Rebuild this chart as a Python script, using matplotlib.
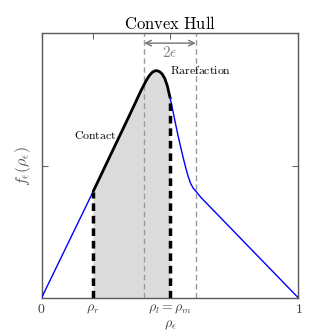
import matplotlib
matplotlib.use("Agg")
import matplotlib.pyplot as plt
import numpy as np

plt.rcParams['mathtext.fontset'] = 'cm'
plt.rcParams['font.family'] = 'serif'
plt.rcParams['font.serif'] = ['DejaVu Serif']

# flux curve f_eps(rho)
rho = [0.0, 0.2, 0.34, 0.36, 0.37, 0.38, 0.39, 0.40, 0.41, 0.42, 0.43, 0.44, 0.45, 0.46, 0.47, 0.48,
       0.49, 0.50, 0.51, 0.52, 0.53, 0.54, 0.55, 0.56, 0.57, 0.58, 0.59, 0.60, 0.62, 1.0]
flux = [0.0, 0.40, 0.685, 0.726, 0.747, 0.768, 0.788, 0.807, 0.825, 0.840, 0.851, 0.857, 0.858, 0.854,
        0.845, 0.828, 0.800, 0.757, 0.712, 0.665, 0.619, 0.576, 0.535, 0.496, 0.461, 0.433, 0.415,
        0.404, 0.38, 0.0]

rho_r = 0.2
rho_m = 0.5
eps = 0.1

xticks = [0.0, rho_r, rho_m, 1.0]
xticklabels = [r'$0$', r'$\rho_r$', r'$\rho_l = \rho_m$', r'$1$']

rho = np.array(rho)
flux = np.array(flux)

fig = plt.figure(figsize=(3.32, 3.32), dpi=100)
ax = fig.add_axes([0.125, 0.1024, 0.774, 0.798])

mask = (rho >= rho_r - 1e-9) & (rho <= rho_m + 1e-9)
ax.fill_between(rho[mask], 0, flux[mask], color='0.86', lw=0, zorder=1)

ax.plot(rho, flux, color='b', lw=1.0, zorder=3)
ax.plot(rho[mask], flux[mask], color='k', lw=2.0, zorder=4, solid_capstyle='butt')

f_r = flux[np.argmin(abs(rho - rho_r))]
f_m = flux[np.argmin(abs(rho - rho_m))]
ax.plot([rho_r, rho_r], [0, f_r], color='k', lw=2.5, ls=(0, (2.2, 1.4)), zorder=5)
ax.plot([rho_m, rho_m], [0, f_m], color='k', lw=2.5, ls=(0, (2.2, 1.4)), zorder=5)

for xv in (rho_m - eps, rho_m + eps):
    ax.axvline(xv, color='0.6', lw=1.0, ls=(0, (4, 2.5)), zorder=2)

ax.annotate('', xy=(rho_m - eps, 0.962), xytext=(rho_m + eps, 0.962),
            arrowprops=dict(arrowstyle='<->', color='0.45', lw=1.0, shrinkA=0, shrinkB=0))
ax.text(rho_m, 0.928, r'$2\epsilon$', color='0.5', ha='center', va='center', fontsize=11)

ax.text(0.21, 0.612, r'$\mathrm{Contact}$', ha='center', va='center', fontsize=8.5)
ax.text(0.5, 0.857, r'$\mathrm{Rarefaction}$', ha='left', va='center', fontsize=8.5)

ax.set_xlim(0, 1)
ax.set_ylim(0, 1)
ax.set_xticks(xticks)
ax.set_xticklabels(xticklabels, fontsize=10)
ax.set_yticks([0.5])
ax.set_yticklabels([''])
ax.tick_params(direction='in', top=True, right=True, length=4, color='0.4', labelcolor='0.25', pad=3)
for s in ax.spines.values():
    s.set_color('0.35')
    s.set_linewidth(1.0)

ax.set_xlabel(r'$\rho_\epsilon$', fontsize=10, color='0.25', labelpad=1)
ax.set_ylabel(r'$f_\epsilon(\rho_\epsilon)$', fontsize=11.5, color='0.35', labelpad=3)
ax.set_title(r'$\mathrm{Convex\ Hull}$', fontsize=12, pad=3)

fig.savefig('out.png', dpi=100)
